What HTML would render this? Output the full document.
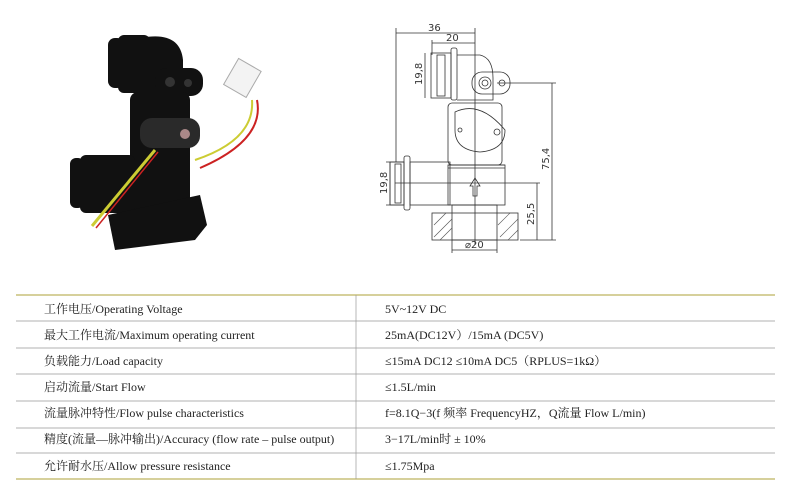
<!DOCTYPE html>
<html><head><meta charset="utf-8"><style>
html,body{margin:0;padding:0;background:#fff;}
body{width:800px;height:500px;position:relative;overflow:hidden;font-family:"Liberation Serif","Noto Serif CJK SC",serif;}
.t{position:absolute;font-size:12px;color:#222;white-space:nowrap;line-height:14px;}
</style></head><body>
<svg width="800" height="500" style="position:absolute;left:0;top:0" xmlns="http://www.w3.org/2000/svg">
<g fill="#111">
<rect x="108" y="38" width="16" height="50" rx="7"/>
<rect x="118" y="35" width="32" height="58" rx="6"/>
<path d="M140 38 Q180 30 183 60 L183 100 L140 100Z"/>
<rect x="155" y="68" width="48" height="28" rx="12"/>
<rect x="130" y="92" width="60" height="140" rx="8"/>
<rect x="70" y="158" width="14" height="50" rx="6"/>
<rect x="80" y="155" width="55" height="58" rx="6"/>
<path d="M108 215 L200 195 L207 225 L195 240 L115 250 Z"/>
</g>
<g fill="#333"><ellipse cx="170" cy="82" rx="5" ry="5"/><ellipse cx="188" cy="83" rx="4" ry="4"/></g>
<rect x="140" y="118" width="60" height="30" rx="12" fill="#2a2a2a"/>
<circle cx="185" cy="134" r="5" fill="#a88"/>
<path d="M257 100 Q265 140 200 168" stroke="#c22" stroke-width="2" fill="none"/>
<path d="M252 100 Q255 140 195 160" stroke="#cc3" stroke-width="2" fill="none"/>
<path d="M155 150 L92 226" stroke="#cc3" stroke-width="3" fill="none"/>
<path d="M158 152 L96 228" stroke="#c22" stroke-width="1.5" fill="none"/>
<g transform="rotate(30 240 80)"><rect x="228" y="62" width="26" height="30" fill="#f3f3f3" stroke="#aaa"/></g>
<g stroke="#333" stroke-width="0.8" fill="none">
<line x1="396" y1="33" x2="475" y2="33"/><line x1="432" y1="43" x2="475" y2="43"/>
<line x1="396" y1="28" x2="396" y2="162"/><line x1="432" y1="40" x2="432" y2="55"/><line x1="475" y1="28" x2="475" y2="245"/>
<rect x="431" y="53" width="20" height="45"/><rect x="437" y="55" width="8" height="41"/>
<rect x="451" y="48" width="6" height="52" rx="2"/>
<path d="M457 55 L480 55 Q493 58 493 78 L493 100 L457 100"/>
<rect x="472" y="72" width="38" height="22" rx="10"/><circle cx="485" cy="83" r="6"/><circle cx="485" cy="83" r="3"/><circle cx="502" cy="83" r="3"/>
<rect x="448" y="103" width="54" height="62" rx="4"/>
<path d="M455 112 Q480 100 505 130 Q505 150 480 152 Q455 150 455 130Z"/><circle cx="460" cy="130" r="2"/><circle cx="497" cy="132" r="3"/>
<line x1="448" y1="165" x2="505" y2="165"/><line x1="448" y1="168" x2="505" y2="168"/>
<rect x="448" y="165" width="57" height="40"/>
<rect x="390" y="162" width="14" height="43"/><rect x="395" y="164" width="6" height="39"/>
<rect x="404" y="156" width="6" height="54" rx="2"/><rect x="410" y="162" width="40" height="43"/>
<path d="M475 178 L470 186 L473 186 L473 196 L477 196 L477 186 L480 186Z"/>
<line x1="395" y1="183" x2="540" y2="183"/>
<rect x="432" y="213" width="86" height="27"/><rect x="452" y="205" width="45" height="35"/>
<line x1="497" y1="83" x2="556" y2="83"/><line x1="520" y1="240" x2="556" y2="240"/>
<line x1="552" y1="83" x2="552" y2="240"/><line x1="537" y1="183" x2="537" y2="240"/>
<line x1="425" y1="53" x2="425" y2="98"/><line x1="390" y1="162" x2="390" y2="205"/>
<line x1="386" y1="162" x2="404" y2="162"/><line x1="386" y1="205" x2="404" y2="205"/>
<line x1="452" y1="240" x2="452" y2="253"/><line x1="497" y1="240" x2="497" y2="253"/><line x1="452" y1="250" x2="497" y2="250"/>
</g>
<g stroke="#555" stroke-width="0.6">
<line x1="434" y1="225" x2="446" y2="213"/><line x1="434" y1="237" x2="452" y2="219"/><line x1="440" y1="240" x2="452" y2="228"/>
<line x1="498" y1="225" x2="510" y2="213"/><line x1="500" y1="237" x2="518" y2="219"/><line x1="508" y1="240" x2="518" y2="230"/>
</g>
<g font-family="DejaVu Sans,sans-serif" font-size="10" fill="#333">
<text x="428" y="31">36</text><text x="446" y="41">20</text>
<text x="465" y="248">⌀20</text>
<text transform="translate(422 85) rotate(-90)">19,8</text>
<text transform="translate(387 194) rotate(-90)">19,8</text>
<text transform="translate(549 170) rotate(-90)">75,4</text>
<text transform="translate(534 225) rotate(-90)">25,5</text>
</g>
<g stroke="#c9c07a" stroke-width="1.5"><line x1="16" y1="295" x2="775" y2="295"/><line x1="16" y1="479" x2="775" y2="479"/></g>
<g stroke="#999" stroke-width="0.7">
<line x1="16" y1="321" x2="775" y2="321"/><line x1="16" y1="348" x2="775" y2="348"/><line x1="16" y1="374" x2="775" y2="374"/>
<line x1="16" y1="401" x2="775" y2="401"/><line x1="16" y1="428" x2="775" y2="428"/><line x1="16" y1="453" x2="775" y2="453"/>
<line x1="356" y1="295" x2="356" y2="479"/></g>
</svg>
<div class="t" style="left:44px;top:302px">工作电压/Operating Voltage</div>
<div class="t" style="left:44px;top:328px">最大工作电流/Maximum operating current</div>
<div class="t" style="left:44px;top:354px">负载能力/Load capacity</div>
<div class="t" style="left:44px;top:380px">启动流量/Start Flow</div>
<div class="t" style="left:44px;top:406px">流量脉冲特性/Flow pulse characteristics</div>
<div class="t" style="left:44px;top:432px;font-size:12px">精度(流量—脉冲输出)/Accuracy (flow rate – pulse output)</div>
<div class="t" style="left:44px;top:459px">允许耐水压/Allow pressure resistance</div>
<div class="t" style="left:385px;top:302px">5V~12V DC</div>
<div class="t" style="left:385px;top:328px">25mA(DC12V）/15mA (DC5V)</div>
<div class="t" style="left:385px;top:354px">≤15mA DC12 ≤10mA DC5（RPLUS=1kΩ）</div>
<div class="t" style="left:385px;top:380px">≤1.5L/min</div>
<div class="t" style="left:385px;top:406px;font-size:12px">f=8.1Q−3(f 频率 FrequencyHZ，Q流量 Flow L/min)</div>
<div class="t" style="left:385px;top:432px">3−17L/min时 ± 10%</div>
<div class="t" style="left:385px;top:459px">≤1.75Mpa</div>
</body></html>
